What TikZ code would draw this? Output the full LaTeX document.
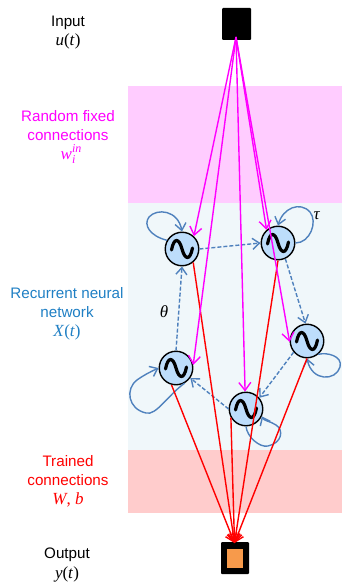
\documentclass[tikz,border=0pt]{standalone}
\usepackage{fontspec}
\setmainfont{Liberation Sans}
\newfontfamily\symfam{Liberation Serif}
\usetikzlibrary{arrows.meta}
\definecolor{magconn}{HTML}{FF00FF}
\definecolor{bandpink}{HTML}{FFCCFF}
\definecolor{bandblue}{HTML}{F0F7FA}
\definecolor{bandred}{HTML}{FFCCCC}
\definecolor{textblue}{HTML}{1F7FC4}
\definecolor{nodefill}{HTML}{BDDDFB}
\definecolor{linkblue}{HTML}{4F81BD}
\definecolor{outorange}{HTML}{F79A4B}
\newcommand{\vr}[1]{\textit{#1}}
\tikzset{
  lab/.style={align=center,inner sep=0pt,font=\fontsize{15.2}{18.6}\selectfont},
  mathlab/.style={inner sep=0pt,font=\symfam\fontsize{17}{18}\selectfont},
  osc/.style={circle,draw=black,line width=1.4pt,fill=nodefill,minimum size=33.5pt,inner sep=0pt,
    path picture={\draw[black,line width=3.2pt,line cap=round,shift={(path picture bounding box.center)}]
      (-10.5,1) .. controls (-8,-12) and (-3,-11) .. (0,0) .. controls (3,11) and (8,12) .. (10.5,-1);}},
  inbox/.style={fill=black,rounded corners=1pt,inner sep=0pt},
  inconn/.style={magconn,line width=1.4pt,-{Straight Barb[length=8pt,width=12pt,line width=1.4pt]}},
  outconn/.style={red,line width=1.4pt,-{Straight Barb[length=8pt,width=12pt,line width=1.4pt]}},
  recur/.style={linkblue,line width=1.4pt,dash pattern=on 4pt off 2pt,-{Straight Barb[length=7pt,width=11pt,line width=1.4pt]}},
  selfloop/.style={linkblue,line width=1.4pt,-{Straight Barb[length=7pt,width=11pt,line width=1.4pt]}},
}
\begin{document}
\begin{tikzpicture}[x=1pt,y=-1pt]
\useasboundingbox (0,0) rectangle (342,585);
\fill[bandpink] (128,86) rectangle (342,203);
\fill[bandblue] (128,203) rectangle (342,450);
\fill[bandred] (128,450) rectangle (342,513);

\node[lab,anchor=base] (tin) at (68,27) {Input};
\node[mathlab,anchor=base] (uin) at (68,46) {\vr{u}(\vr{t})};
\node[lab,magconn,anchor=base] (tfix) at (68,122) {Random fixed};
\node[lab,magconn,anchor=base] (tfix2) at (68,140.5) {connections};
\node[mathlab,magconn,anchor=base] (wfix) at (68,160) {\vr{w}\rlap{\raisebox{7.5pt}{\fontsize{12}{12}\selectfont\vr{in}}}\raisebox{-4pt}{\fontsize{12}{12}\selectfont\vr{i}}\hspace{6pt}};
\node[lab,textblue,anchor=base] (trec) at (67,298) {Recurrent neural};
\node[lab,textblue,anchor=base] (trec2) at (67,317) {network};
\node[mathlab,textblue,anchor=base] (xrec) at (67,336) {\vr{X}(\vr{t})};
\node[lab,red,anchor=base] (ttr) at (68,466) {Trained};
\node[lab,red,anchor=base] (ttr2) at (68,485) {connections};
\node[mathlab,red,anchor=base] (wtr) at (68,504) {\vr{W}, \vr{b}};
\node[lab,anchor=base] (tout) at (67,558) {Output};
\node[mathlab,anchor=base] (yout) at (67,578) {\vr{y}(\vr{t})};
\node[mathlab] (ttheta) at (164,312) {\vr{θ}};
\node[mathlab] (ttau) at (317,216) {\vr{τ}};

\node[inbox,minimum width=29pt,minimum height=32pt] (input) at (236.5,24) {};
\node[inbox,minimum width=28pt,minimum height=32pt] (output) at (235,558) {};
\node[fill=outorange,inner sep=0pt,minimum width=16pt,minimum height=19.5pt] (core) at (235,558.5) {};

\node[osc] (A) at (182,249) {};
\node[osc] (B) at (278,243) {};
\node[osc] (C) at (307,341) {};
\node[osc] (D) at (176,368) {};
\node[osc] (E) at (246,409) {};

\coordinate (src) at (236,37);
\coordinate (snk) at (234.5,543);

% self loops
\draw[selfloop] (A.150) .. controls (150,236) and (143,225) .. (149,217) .. controls (157,208) and (178,210) .. (A.north);
\draw[selfloop] (B.east) .. controls (310,243) and (318,222) .. (310,212) .. controls (300,201) and (283,208) .. (B.north);
\draw[selfloop] (C.-50) .. controls (327,352) and (343,356) .. (340,367) .. controls (336,381) and (312,382) .. (C.south);
\draw[selfloop] (D.-60) .. controls (168,395) and (156,416) .. (146,413) .. controls (128,409) and (125,389) .. (137,380) .. controls (144,375) and (150,372) .. (D.west);
\draw[selfloop] (E.-90) .. controls (247,437) and (260,448) .. (268,446) .. controls (282,443) and (284,430) .. (276,425) .. controls (270,421) and (264,421) .. (E.-25);

% recurrent links
\draw[recur] (A.east) -- (B.west);
\draw[recur] (B.-65) -- (C.95);
\draw[recur] (C.-140) -- (E.40);
\draw[recur] (E.west) -- (D.-35);
\draw[recur] (D.north) -- (A.south);

% output weights
\draw[outconn] (A.-50) -- (snk);
\draw[outconn] (B.south) -- (snk);
\draw[outconn] (C.south) -- (snk);
\draw[outconn] (D.-105) -- (snk);
\draw[outconn] (E.-150) -- (snk);

% input weights
\draw[inconn] (src) -- (A.47);
\draw[inconn] (src) -- (B.131);
\draw[inconn] (src) -- (C.183);
\draw[inconn] (src) -- (D.10);
\draw[inconn] (src) -- (E.93);
\end{tikzpicture}
\end{document}
